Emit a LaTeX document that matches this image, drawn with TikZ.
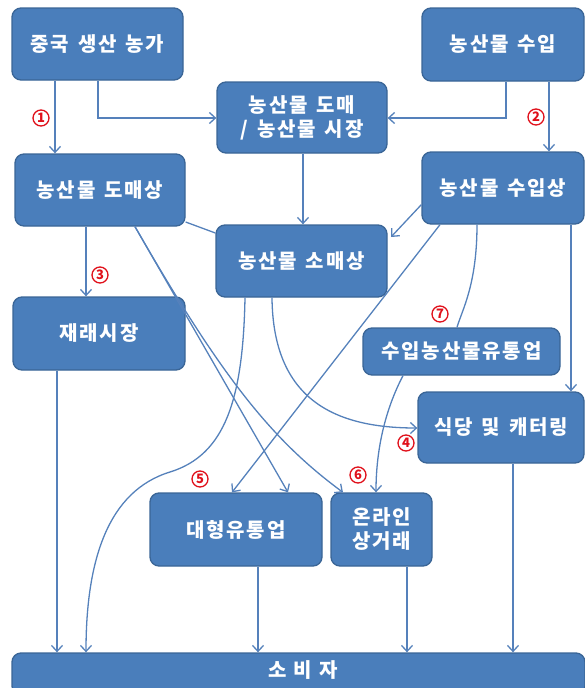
\documentclass[tikz,border=0pt]{standalone}
\usepackage{fontspec}
\setmainfont{Noto Sans CJK KR}[LetterSpace=9,WordSpace=1.4]
\usetikzlibrary{arrows.meta}
\definecolor{boxfill}{HTML}{4A7EBB}
\definecolor{boxline}{HTML}{3A6596}
\definecolor{conn}{HTML}{5581BB}
\definecolor{numred}{HTML}{E0101A}
\tikzset{
  box/.style={draw=boxline, line width=1.3pt, fill=boxfill, rounded corners=9pt,
    text=white, font=\fontsize{20}{24}\selectfont\bfseries, align=center, inner sep=0pt},
  link/.style={draw=conn, line width=1.3pt},
  arr/.style={link, -{Straight Barb[length=6pt,width=11pt,line width=1.3pt]}},
  num/.style={circle, draw=numred, line width=1.3pt, text=numred, inner sep=0pt,
    minimum size=16pt, font=\fontsize{13}{13}\selectfont\bfseries}
}
\begin{document}
\begin{tikzpicture}[x=1pt,y=-1pt]
\clip (0,0) rectangle (585,688);
% boxes
\node[box, minimum width=171pt, minimum height=72pt] (farm) at (97.5,44) {중국 생산 농가};
\node[box, minimum width=162pt, minimum height=73pt] (imp) at (503,44.5) {농산물 수입};
\node[box, minimum width=170pt, minimum height=71pt] (whole) at (302,117.5) {농산물 도매\\/ 농산물 시장};
\node[box, minimum width=170pt, minimum height=72pt] (dosang) at (100,190) {농산물 도매상};
\node[box, minimum width=162pt, minimum height=72pt] (impsang) at (503,188) {농산물 수입상};
\node[box, minimum width=171pt, minimum height=72pt] (retail) at (301.5,261) {농산물 소매상};
\node[box, minimum width=172pt, minimum height=73pt] (market) at (99,333.5) {재래시장};
\node[box, minimum width=197pt, minimum height=47pt] (impdist) at (461.5,351.5) {수입농산물유통업};
\node[box, minimum width=166pt, minimum height=71pt] (rest) at (501,427.5) {식당 및 캐터링};
\node[box, minimum width=172pt, minimum height=73pt] (large) at (236,529.5) {대형유통업};
\node[box, minimum width=101pt, minimum height=73pt] (online) at (381.5,529.5) {온라인\\상거래};
\node[box, minimum width=573pt, minimum height=42pt] (cons) at (298.5,674) {};
\node[text=white, font=\fontsize{20}{24}\selectfont\bfseries] (constext) at (303,670) {소\hspace{7pt}비\hspace{7pt}자};
% coordinates
\coordinate (c1) at (98,118);
\coordinate (c2) at (506,118);
% connectors
\draw[arr] (farm.south -| 55,0) -- (dosang.north -| 55,0);
\draw[arr] (farm.south -| c1) -- (c1) -- (whole.west |- c1);
\draw[arr] (imp.south -| c2) -- (c2) -- (whole.east |- c2);
\draw[arr] (imp.south -| 549,0) -- (impsang.north -| 549,0);
\draw[arr] (whole.south -| 303,0) -- (retail.north -| 303,0);
\draw[arr] (impsang.south west) ++(0,-20) coordinate (s1) (s1) -- (391,237);
\draw[link] (dosang.east |- 0,222) -- (retail.west |- 0,233);
\draw[arr] (dosang.south -| 86,0) -- (market.north -| 86,0);
\draw[arr] (dosang.south -| 135,0) -- (large.north -| 288,0);
\draw[arr] (dosang.south -| 135,0) .. controls (222,378) and (272,440) .. (online.north -| 343,0);
\draw[arr] (impsang.south -| 440,0) -- (large.north -| 232,0);
\draw[link] (impsang.south -| 477,0) .. controls (477,285) and (462,310) .. (impdist.north -| 457,0);
\draw[arr] (impsang.south -| 571,0) -- (rest.north -| 571,0);
\draw[arr] (retail.south -| 272,0) .. controls (273,400) and (335,428) .. (rest.west |- 0,428);
\draw[arr] (retail.south -| 245,0) .. controls (243,400) and (225,455) .. (170,472) .. controls (108,491) and (86,560) .. (cons.north -| 86,0);
\draw[arr] (impdist.south -| 403,0) .. controls (385,410) and (376,450) .. (online.north -| 376,0);
\draw[arr] (market.south -| 57,0) -- (cons.north -| 57,0);
\draw[arr] (large.south -| 258,0) -- (cons.north -| 258,0);
\draw[arr] (online.south -| 407,0) -- (cons.north -| 407,0);
\draw[arr] (rest.south -| 513,0) -- (cons.north -| 513,0);
% numbers
\node[num] (n1) at (41,118) {1};
\node[num] (n2) at (536,117) {2};
\node[num] (n3) at (100,275) {3};
\node[num] (n4) at (406,443) {4};
\node[num] (n5) at (200,479) {5};
\node[num] (n6) at (358,475) {6};
\node[num] (n7) at (440,314) {7};
\end{tikzpicture}
\end{document}
